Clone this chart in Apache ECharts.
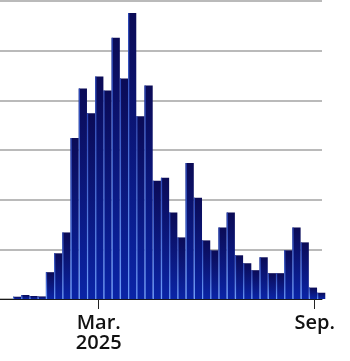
<!DOCTYPE html>
<html>
<head>
<meta charset="utf-8">
<script src="https://cdn.jsdelivr.net/npm/echarts@6/dist/echarts.min.js"></script>
<style>
html,body{margin:0;padding:0;background:#fff;}
#c{width:350px;height:361px;}
</style>
</head>
<body>
<div id="c"></div>
<script>
// Week start dates (each bar spans one week)
var weeks = [
  '2024-12-18','2024-12-25','2025-01-01','2025-01-08','2025-01-15','2025-01-22','2025-01-29',
  '2025-02-05','2025-02-12','2025-02-19','2025-02-26','2025-03-05','2025-03-12','2025-03-19',
  '2025-03-26','2025-04-02','2025-04-09','2025-04-16','2025-04-23','2025-04-30','2025-05-07',
  '2025-05-14','2025-05-21','2025-05-28','2025-06-04','2025-06-11','2025-06-18','2025-06-25',
  '2025-07-02','2025-07-09','2025-07-16','2025-07-23','2025-07-30','2025-08-06','2025-08-13',
  '2025-08-20','2025-08-27','2025-09-03'
];
// Weekly values (arbitrary units)
var values = [
  2.3, 4, 3, 2.6, 27, 46, 67, 162, 212, 187, 224, 210, 263, 222, 288, 184, 215, 119, 122,
  87, 62, 137, 102, 59, 49, 72, 87, 44, 36, 29, 42, 26, 26, 49, 72, 57, 11.5, 6.3
];
// Axis tick labels
var tickDates = ['2025-03-01', '2025-09-01'];
var tickLabels = ['Mar.\n2025', 'Sep.'];
var axisRange = ['2024-12-06T22:00:00Z', '2025-09-07T05:00:00Z'];

function ts(s){ return s.length === 10 ? Date.parse(s + 'T00:00:00Z') : Date.parse(s); }
var WEEK = 7 * 24 * 3600 * 1000;
var tickTs = tickDates.map(ts);
var data = weeks.map(function(w, i){ return [ts(w), values[i]]; });

var chart = echarts.init(document.getElementById('c'), null, {renderer: 'canvas'});
chart.setOption({
  animation: false,
  backgroundColor: '#ffffff',
  grid: {left: 0, right: 28, top: 1, bottom: 62, outerBoundsMode: 'none', containLabel: false},
  xAxis: {
    type: 'value',
    min: ts(axisRange[0]),
    max: ts(axisRange[1]),
    axisLine: {show: true, onZero: false, lineStyle: {color: '#1a1a1a', width: 1}},
    axisTick: {show: true, customValues: tickTs, length: 10, lineStyle: {color: '#222', width: 1}},
    axisLabel: {
      show: true,
      customValues: tickTs,
      margin: 14,
      color: '#111',
      fontFamily: 'Open Sans',
      fontWeight: 600,
      fontSize: 20,
      lineHeight: 20,
      formatter: function(v){
        for (var i = 0; i < tickTs.length; i++) {
          if (Math.abs(tickTs[i] - v) < 3600000) return tickLabels[i];
        }
        return '';
      }
    },
    splitLine: {show: false}
  },
  yAxis: {
    type: 'value',
    min: 0, max: 300, interval: 50,
    axisLine: {show: false},
    axisTick: {show: false},
    axisLabel: {show: false},
    splitLine: {show: true, lineStyle: {color: '#a3a3a3', width: 1.6}}
  },
  series: [{
    type: 'custom',
    clip: false,
    data: data,
    encode: {x: 0, y: 1},
    renderItem: function(params, api){
      var t = api.value(0), v = api.value(1);
      var p0 = api.coord([t, 0]);
      var p1 = api.coord([t + WEEK, v]);
      var x0 = p0[0], x1 = p1[0], yb = p0[1], yt = p1[1];
      var h = yb - yt;
      return {
        type: 'group',
        children: [
          {
            type: 'rect',
            shape: {x: x0, y: yt, width: x1 - x0, height: h},
            style: {fill: new echarts.graphic.LinearGradient(0, 0, 0, 1, [
              {offset: 0, color: '#0b0b56'},
              {offset: 1, color: '#0a24a6'}
            ])}
          },
          {
            type: 'rect',
            shape: {x: x0, y: yt, width: 1.2, height: h},
            style: {fill: new echarts.graphic.LinearGradient(0, 0, 0, 1, [
              {offset: 0, color: '#2c48b8'},
              {offset: 1, color: '#6c9cfa'}
            ])}
          }
        ]
      };
    }
  }]
});
</script>
</body>
</html>
